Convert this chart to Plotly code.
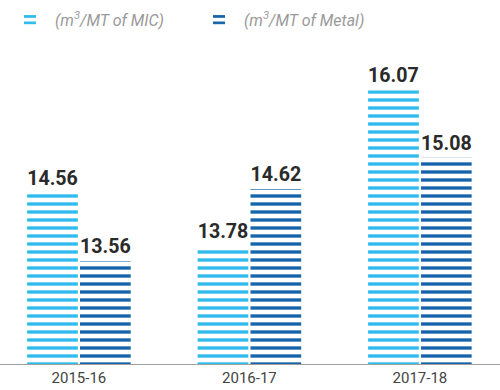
import plotly.graph_objects as go

years = ["2015-16", "2016-17", "2017-18"]
mic_values = [14.56, 13.78, 16.07]
metal_values = [13.56, 14.62, 15.08]
series_names = ["(m<sup>3</sup>/MT of MIC)", "(m<sup>3</sup>/MT of Metal)"]

light = "#2fbbec"
dark = "#1664aa"

fig = go.Figure()
for name, vals, col in [(series_names[0], mic_values, light), (series_names[1], metal_values, dark)]:
    fig.add_trace(go.Bar(
        x=years, y=vals, name=name,
        text=[f"{v:.2f}" for v in vals],
        textposition="outside",
        cliponaxis=False,
        textfont=dict(family="Roboto", size=20, color="#2a2a2a", weight="bold"),
        marker=dict(color="white", line=dict(width=0),
                    pattern=dict(shape="-", fgcolor=col, bgcolor="white", fgopacity=1,
                                 size=8, solidity=0.42, fillmode="replace")),
    ))

fig.update_layout(
    width=500, height=390,
    margin=dict(l=0, r=0, t=40, b=26),
    paper_bgcolor="white", plot_bgcolor="white",
    barmode="group", bargap=0.38, bargroupgap=0.04,
    showlegend=True,
    legend=dict(orientation="h", x=0.01, y=1.01, yanchor="bottom", xanchor="left",
                font=dict(family="Roboto", size=16, color="#9a9a9a", style="italic"),
                itemwidth=40, entrywidth=134, entrywidthmode="pixels", traceorder="normal"),
    xaxis=dict(range=[-0.463, 2.47], showline=True, linecolor="#a0a0a0", linewidth=1,
               ticks="", tickfont=dict(family="Roboto", size=15, color="#444")),
    yaxis=dict(range=[12.05, 16.81], visible=False, showgrid=False),
)

fig.write_html("out.html", config={"displayModeBar": False},
               post_script="document.body.style.margin='0';document.body.style.overflow='hidden';")
